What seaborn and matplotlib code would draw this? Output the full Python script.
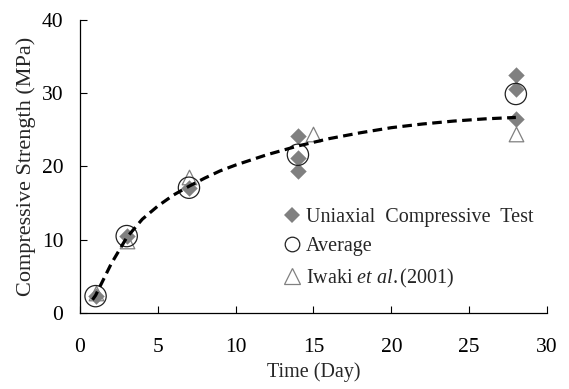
import numpy as np
import pandas as pd
import matplotlib
matplotlib.use("Agg")
import matplotlib.pyplot as plt
import seaborn as sns
from matplotlib.lines import Line2D

# Measured compressive strength (MPa) by curing age (days)
test_days = [1, 3, 7, 14, 14, 14, 28, 28, 28]
test_strength = [2.3, 10.5, 17.0, 24.2, 21.1, 19.4, 32.5, 30.6, 26.5]

avg_days = [1, 3, 7, 14, 28]
avg_strength = [2.3, 10.5, 17.1, 21.6, 29.9]

iwaki_days = [1, 3, 7, 15, 28]
iwaki_strength = [2.7, 9.8, 18.6, 24.5, 24.5]

# Strength-development trend curve
trend_days = [0.8, 1, 2, 3, 4, 5, 6, 7, 8, 9, 10, 12, 14, 16, 18, 20, 22, 24, 26, 28]
trend_strength = [1.8, 2.4, 6.7, 10.3, 12.8, 14.6, 16.1, 17.3, 18.4, 19.4, 20.2,
                  21.6, 22.8, 23.8, 24.6, 25.3, 25.8, 26.2, 26.5, 26.7]

x_ticks = [0, 5, 10, 15, 20, 25, 30]
y_ticks = [0, 10, 20, 30, 40]

sns.set_theme(style="white")
plt.rcParams["font.family"] = ["Liberation Serif", "DejaVu Serif"]
plt.rcParams["mathtext.fontset"] = "custom"
plt.rcParams["mathtext.it"] = "Liberation Serif:italic"
plt.rcParams["mathtext.rm"] = "Liberation Serif"

FS = 14.5
TICK_FS = 15.5
GREY = "#808080"

fig = plt.figure(figsize=(5.69, 3.89), dpi=100)
ax = fig.add_axes([0.1406, 0.1954, 0.8207, 0.7532])

test_df = pd.DataFrame({"day": test_days, "strength": test_strength})
avg_df = pd.DataFrame({"day": avg_days, "strength": avg_strength})
iwaki_df = pd.DataFrame({"day": iwaki_days, "strength": iwaki_strength})
trend_df = pd.DataFrame({"day": trend_days, "strength": trend_strength})

sns.scatterplot(data=iwaki_df, x="day", y="strength", ax=ax, marker="^", s=110,
                facecolor="white", edgecolor=GREY, linewidth=0.9, zorder=2, legend=False)
sns.scatterplot(data=test_df, x="day", y="strength", ax=ax, marker="D", s=70,
                color=GREY, edgecolor=GREY, linewidth=0, zorder=3, legend=False)
sns.scatterplot(data=avg_df, x="day", y="strength", ax=ax, marker="o", s=235,
                facecolor="none", edgecolor="#222222", linewidth=0.9, zorder=4, legend=False)
sns.lineplot(data=trend_df, x="day", y="strength", ax=ax, color="black",
             linewidth=2.3, dashes=False, zorder=5, legend=False)
ax.lines[-1].set_dashes((3.0, 1.7))

ax.set_xlim(0, 30)
ax.set_ylim(0, 40)
ax.set_xticks(x_ticks)
ax.set_yticks(y_ticks)
ax.tick_params(direction="in", length=5, width=0.8, colors="black",
               labelsize=TICK_FS, bottom=True, left=True)
ax.tick_params(axis="x", pad=18)
ax.tick_params(axis="y", pad=12)
for side in ("top", "right"):
    ax.spines[side].set_visible(False)
for side in ("left", "bottom"):
    ax.spines[side].set_color("black")
    ax.spines[side].set_linewidth(0.9)

ax.set_xlabel("Time (Day)", fontsize=FS, labelpad=4)
ax.set_ylabel("Compressive Strength (MPa)", fontsize=16, labelpad=4)

handles = [
    Line2D([], [], linestyle="none", marker="D", markersize=8.2,
           markerfacecolor=GREY, markeredgecolor=GREY, markeredgewidth=0),
    Line2D([], [], linestyle="none", marker="o", markersize=10.5,
           markerfacecolor="none", markeredgecolor="#222222", markeredgewidth=0.9),
    Line2D([], [], linestyle="none", marker="^", markersize=11,
           markerfacecolor="none", markeredgecolor=GREY, markeredgewidth=0.9),
]
labels = ["Uniaxial  Compressive  Test", "Average", r"Iwaki $\it{et}$ $\it{al.}$(2001)"]
ax.legend(handles, labels, loc="upper left", bbox_to_anchor=(0.436, 0.36),
          frameon=False, fontsize=14.5, handlelength=0.8, handletextpad=0.3,
          labelspacing=0.52, borderaxespad=0, borderpad=0)

fig.savefig("out.png", dpi=100)
